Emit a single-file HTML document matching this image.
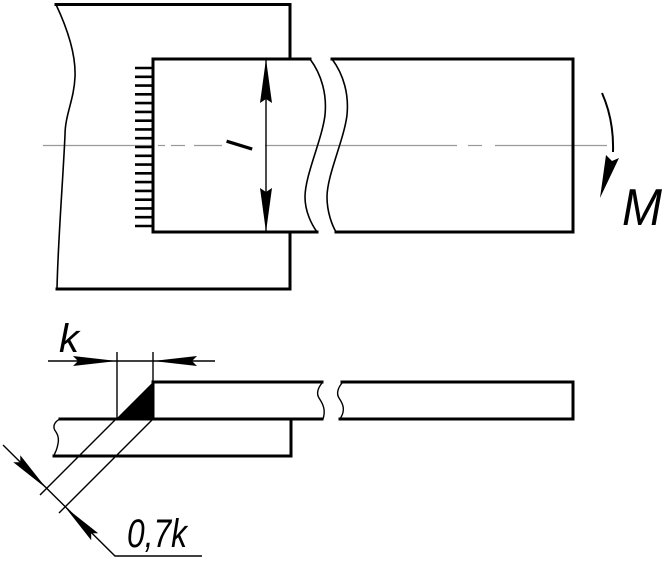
<!DOCTYPE html>
<html><head><meta charset="utf-8"><style>
html,body{margin:0;padding:0;background:#fff;}
svg{display:block;}
text{font-family:"Liberation Sans",sans-serif;font-style:italic;fill:#000;}
</style></head><body>
<svg width="669" height="562" viewBox="0 0 669 562" xmlns="http://www.w3.org/2000/svg">
<rect width="669" height="562" fill="#fff"/>
<!-- centerline -->
<g stroke="#9a9a9a" stroke-width="1.2" fill="none">
<line x1="43" y1="145.5" x2="152" y2="145.5"/>
<line x1="158" y1="145.5" x2="165" y2="145.5"/>
<line x1="171" y1="145.5" x2="185" y2="145.5"/>
<line x1="194" y1="145.5" x2="222" y2="145.5"/>
<line x1="265" y1="145.5" x2="457" y2="145.5"/>
<line x1="468" y1="145.5" x2="482" y2="145.5"/>
<line x1="495" y1="145.5" x2="607" y2="145.5"/>
</g>
<!-- outer plate -->
<g stroke="#000" stroke-width="3" fill="none" stroke-linecap="square">
<polyline points="56,4.5 290,4.5 290,59"/>
<polyline points="290,232 290,289 57,289"/>
<!-- inner bar -->
<polyline points="310,59 153,59 153,232 317,232"/>
<polyline points="332,59 573,59 573,232 336,232"/>
</g>
<g stroke="#000" stroke-width="1.6" fill="none">
<path d="M56,4.5 C68,30 76,55 75,77 C74,100 65,115 65,135 C63,180 58,240 57,289"/>
<path d="M310,59 C322,75 327,95 325,115 C322,140 305,175 305,197 C305,212 312,225 317,232"/>
<path d="M332,59 C344,75 349,95 347,115 C344,140 327,175 327,197 C327,212 332,225 336,232"/>
</g>
<!-- hatching -->
<g stroke="#000" stroke-width="2.6">
<line x1="135" y1="68" x2="153" y2="68"/>
<line x1="135" y1="76.8" x2="153" y2="76.8"/>
<line x1="135" y1="85.6" x2="153" y2="85.6"/>
<line x1="135" y1="94.3" x2="153" y2="94.3"/>
<line x1="135" y1="103.1" x2="153" y2="103.1"/>
<line x1="135" y1="111.9" x2="153" y2="111.9"/>
<line x1="135" y1="120.7" x2="153" y2="120.7"/>
<line x1="135" y1="129.4" x2="153" y2="129.4"/>
<line x1="135" y1="138.2" x2="153" y2="138.2"/>
<line x1="135" y1="147" x2="153" y2="147"/>
<line x1="135" y1="155.8" x2="153" y2="155.8"/>
<line x1="135" y1="164.6" x2="153" y2="164.6"/>
<line x1="135" y1="173.3" x2="153" y2="173.3"/>
<line x1="135" y1="182.1" x2="153" y2="182.1"/>
<line x1="135" y1="190.9" x2="153" y2="190.9"/>
<line x1="135" y1="199.7" x2="153" y2="199.7"/>
<line x1="135" y1="208.4" x2="153" y2="208.4"/>
<line x1="135" y1="217.2" x2="153" y2="217.2"/>
<line x1="135" y1="226" x2="153" y2="226"/>
</g>
<!-- dimension l -->
<line x1="266" y1="60" x2="266" y2="231" stroke="#000" stroke-width="1.4"/>
<polygon points="266,59 272,103 266,99 260,103" fill="#000"/>
<polygon points="266,232 272,188 266,192 260,188" fill="#000"/>
<g transform="translate(251,153) rotate(-73)"><text x="0" y="0" font-size="37" style="font-style:normal">l</text></g>
<!-- moment -->
<path d="M602,93 Q614,120 613,152" stroke="#000" stroke-width="2" fill="none"/>
<polygon points="606,155 612,161 619,158 600,198" fill="#000"/>
<text x="622" y="225" font-size="52" textLength="40" lengthAdjust="spacingAndGlyphs">M</text>

<!-- lower drawing -->
<g stroke="#000" stroke-width="3" fill="none" stroke-linecap="square">
<polyline points="322,382 153,382 153,419"/>
<line x1="60" y1="419" x2="322" y2="419"/>
<polyline points="54,456 291,456 291,419"/>
<polyline points="342,382 573,382 573,419 340,419"/>
</g>
<polygon points="116,419 153,382 153,419" fill="#000"/>
<g stroke="#000" stroke-width="1.4" fill="none">
<path d="M322,383 C318,388 316,393 319,398 C323,404 326,410 323,419"/>
<path d="M342,383 C338,388 336,393 339,398 C343,404 346,410 340,419"/>
<path d="M60,419 C54,422 52,427 56,432 C60,438 58,444 57,448 C56,452 54,454 54,456"/>
<!-- extension lines k -->
<line x1="117" y1="352" x2="117" y2="419"/>
<line x1="153" y1="352" x2="153" y2="382"/>
<line x1="48" y1="361" x2="215" y2="361"/>
<!-- slanted lines -->
<line x1="116" y1="419" x2="40" y2="495"/>
<line x1="153" y1="419" x2="59" y2="513"/>
<polyline points="3,445 115,556 202,556"/>
</g>
<polygon points="117,361 73,356 78,361 73,366" fill="#000"/>
<polygon points="153,361 197,356 192,361 197,366" fill="#000"/>
<polygon points="46.5,488.5 20.3,455.3 20.3,462.3 13.3,462.3" fill="#000"/>
<polygon points="65,507 98.2,533.2 91.2,533.2 91.2,540.2" fill="#000"/>
<text x="59" y="352" font-size="40">k</text>
<text x="127" y="547" font-size="40" textLength="60" lengthAdjust="spacingAndGlyphs">0,7k</text>
</svg>
</body></html>
